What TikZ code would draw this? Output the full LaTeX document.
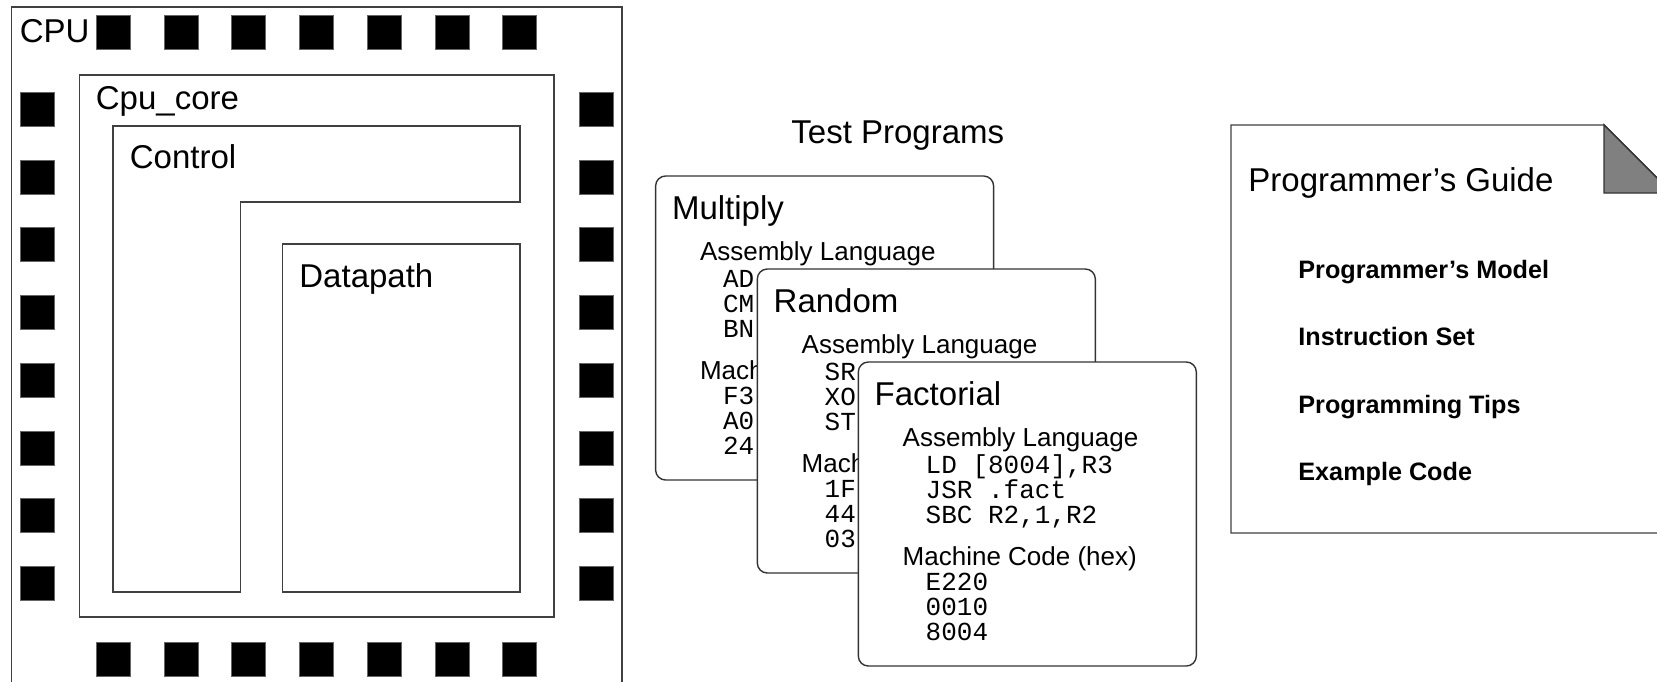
\documentclass[tikz,border=0pt]{standalone}
\usepackage{fontspec}
\setmainfont{Liberation Sans}
\setmonofont{Liberation Mono}

\tikzset{
    frame/.style={draw=black!75, line width=0.7pt},
    chippin/.style={draw=black!60, fill=black, minimum size=17pt, inner sep=0pt, anchor=north west},
    bigtext/.style={font=\fontsize{16.5}{19}\selectfont, inner sep=0pt, anchor=base west},
    subhead/.style={font=\fontsize{13}{15}\selectfont, inner sep=0pt, anchor=base west},
    codeline/.style={font=\ttfamily\fontsize{13}{15}\selectfont, inner sep=0pt, anchor=base west},
    guideitem/.style={font=\bfseries\fontsize{12.6}{15}\selectfont, inner sep=0pt, anchor=base west},
    progcard/.style={draw=black!80, line width=0.7pt, fill=white, rounded corners=5pt,
        minimum width=169pt, minimum height=152pt, inner sep=0pt, outer sep=0pt, anchor=north west}
}

\begin{document}
\begin{tikzpicture}[x=5pt, y=-5pt]
            \useasboundingbox (0,0) rectangle (165.7,68.1);
            \clip (0,0) rectangle (165.7,68.1);

            \draw[frame] (1.17,0.7) rectangle (62.2,70);
            \node[bigtext] (cpu) at (1.95,4.2) {CPU};
            \foreach \i in {0,...,6} {
                \node[chippin] (top\i) at (9.6+6.77*\i, 1.5)  {};
                \node[chippin] (bot\i) at (9.6+6.77*\i, 64.2) {};
            }
            \foreach \j in {0,...,7} {
                \node[chippin] (lft\j) at (2.0, 9.2+6.77*\j)  {};
                \node[chippin] (rgt\j) at (57.9, 9.2+6.77*\j) {};
            }

            \draw[frame] (7.94,7.5) rectangle (55.4,61.7);
            \node[bigtext] (core) at (9.55,10.9) {Cpu\_core};
            \draw[frame] (11.3,12.6) -- (52.0,12.6) -- (52.0,20.2) -- (24.04,20.2)
                -- (24.04,59.2) -- (11.3,59.2) -- cycle;
            \node[bigtext] (control) at (12.95,16.8) {Control};
            \draw[frame] (28.24,24.4) rectangle (52.0,59.2);
            \node[bigtext] (datapath) at (29.9,28.7) {Datapath};

            \node[bigtext] (tests) at (79.1,14.3) {Test Programs};

            \node[progcard] (mult) at (65.56,17.6) {};
            \node[bigtext] (mult-name) at ([shift={(1.6,4.3)}]mult.north west) {Multiply};
            \node[subhead] (mult-asm) at ([shift={(4.4,8.47)}]mult.north west) {Assembly Language};
            \foreach \ln [count=\k] in {AD,CM,BN}
                \node[codeline] (mult-asm\k) at ([shift={(6.7,8.63+2.5*\k)}]mult.north west) {\ln};
            \node[subhead] (mult-hex) at ([shift={(4.4,20.3)}]mult.north west) {Mach};
            \foreach \ln [count=\k] in {F3,A0,24}
                \node[codeline] (mult-hex\k) at ([shift={(6.7,20.3+2.5*\k)}]mult.north west) {\ln};

            \node[progcard] (rand) at (75.73,26.9) {};
            \node[bigtext] (rand-name) at ([shift={(1.6,4.3)}]rand.north west) {Random};
            \node[subhead] (rand-asm) at ([shift={(4.4,8.47)}]rand.north west) {Assembly Language};
            \foreach \ln [count=\k] in {SR,XO,ST}
                \node[codeline] (rand-asm\k) at ([shift={(6.7,8.63+2.5*\k)}]rand.north west) {\ln};
            \node[subhead] (rand-hex) at ([shift={(4.4,20.3)}]rand.north west) {Mach};
            \foreach \ln [count=\k] in {1F,44,03}
                \node[codeline] (rand-hex\k) at ([shift={(6.7,20.3+2.5*\k)}]rand.north west) {\ln};

            \node[progcard] (fact) at (85.83,36.2) {};
            \node[bigtext] (fact-name) at ([shift={(1.6,4.3)}]fact.north west) {Factorial};
            \node[subhead] (fact-asm) at ([shift={(4.4,8.47)}]fact.north west) {Assembly Language};
            \foreach \ln [count=\k] in {{LD [8004],R3},{JSR .fact},{SBC R2,1,R2}}
                \node[codeline] (fact-asm\k) at ([shift={(6.7,8.63+2.5*\k)}]fact.north west) {\ln};
            \node[subhead] (fact-hex) at ([shift={(4.4,20.3)}]fact.north west) {Machine Code (hex)};
            \foreach \ln [count=\k] in {E220,0010,8004}
                \node[codeline] (fact-hex\k) at ([shift={(6.7,20.3+2.5*\k)}]fact.north west) {\ln};

            \draw[frame] (123.1,12.5) -- (160.4,12.5) -- (167.2,19.3) -- (167.2,53.3)
                -- (123.1,53.3) -- cycle;
            \filldraw[fill=gray, draw=black!80, line width=0.7pt] (160.4,12.5) -- (160.4,19.3)
                -- (167.2,19.3) -- cycle;
            \node[bigtext] (guide) at (124.8,19.17) {Programmer’s Guide};
            \node[guideitem] (model) at (129.8,27.83) {Programmer’s Model};
            \node[guideitem] (iset) at (129.8,34.5)    {Instruction Set};
            \node[guideitem] (tips) at (129.8,41.33)   {Programming Tips};
            \node[guideitem] (excode) at (129.8,48.0)  {Example Code};
        \end{tikzpicture}
\end{document}
